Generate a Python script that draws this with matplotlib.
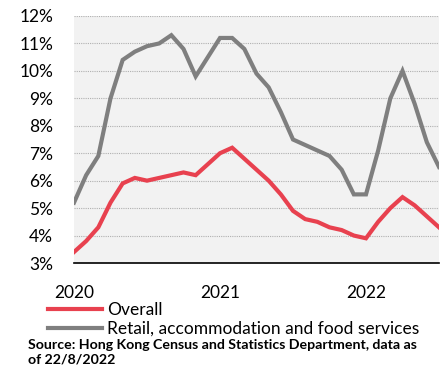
import matplotlib
matplotlib.use("Agg")
import matplotlib.pyplot as plt
import numpy as np

months = np.arange(31)  # Jan 2020 .. Jul 2022
overall = [3.4, 3.8, 4.3, 5.2, 5.9, 6.1, 6.0, 6.1, 6.2, 6.3, 6.2, 6.6,
           7.0, 7.2, 6.8, 6.4, 6.0, 5.5, 4.9, 4.6, 4.5, 4.3, 4.2, 4.0,
           3.9, 4.5, 5.0, 5.4, 5.1, 4.7, 4.3]
retail = [5.2, 6.2, 6.9, 9.0, 10.4, 10.7, 10.9, 11.0, 11.3, 10.8, 9.8, 10.5,
          11.2, 11.2, 10.8, 9.9, 9.4, 8.5, 7.5, 7.3, 7.1, 6.9, 6.4, 5.5,
          5.5, 7.1, 9.0, 10.0, 8.8, 7.4, 6.5]
year_labels = ["2020", "2021", "2022"]
year_pos = [0, 12, 24]
yticks = list(range(3, 13))

plt.rcParams['font.family'] = ['Lato', 'DejaVu Sans']

fig = plt.figure(figsize=(4.46, 3.76), dpi=100)
ax = fig.add_axes([74/446, 1-263/376, (439-74)/446, (263-16)/376])
ax.set_facecolor('#f2f2f2')

ax.plot(months, retail, color='#7f7f7f', lw=3.0, label='Retail, accommodation and food services', solid_joinstyle='miter')
ax.plot(months, overall, color='#e8414f', lw=3.0, label='Overall', solid_joinstyle='miter')

ax.set_xlim(0, 30)
ax.set_ylim(3, 12)
ax.set_yticks(yticks)
ax.set_yticklabels([f"{v}%" for v in yticks], fontsize=12.5)
ax.set_xticks(year_pos)
ax.set_xticklabels(year_labels, fontsize=12.5)
ax.tick_params(axis='y', length=0, pad=15)
ax.tick_params(axis='x', length=0, pad=16)
ax.grid(axis='y', color='#b0b0b0', ls=(0, (1, 1)), lw=0.8)
ax.set_axisbelow(True)
for s in ['top', 'right', 'left']:
    ax.spines[s].set_visible(False)
ax.spines['bottom'].set_color('black')
ax.spines['bottom'].set_linewidth(1.2)

h, l = ax.get_legend_handles_labels()
leg = fig.legend([h[1], h[0]], [l[1], l[0]], loc='upper left',
                 bbox_to_anchor=(48/446, 1-302/376), frameon=False,
                 fontsize=12.5, handlelength=3.1, handletextpad=0.3,
                 labelspacing=0.15, borderpad=0, borderaxespad=0)

fig.text(28/446, 1-349/376, "Source: Hong Kong Census and Statistics Department, data as",
         fontsize=10.2, fontweight='bold', ha='left', va='baseline')
fig.text(28/446, 1-363/376, "of 22/8/2022",
         fontsize=10.2, fontweight='bold', ha='left', va='baseline')

fig.savefig('out.png', dpi=100)
